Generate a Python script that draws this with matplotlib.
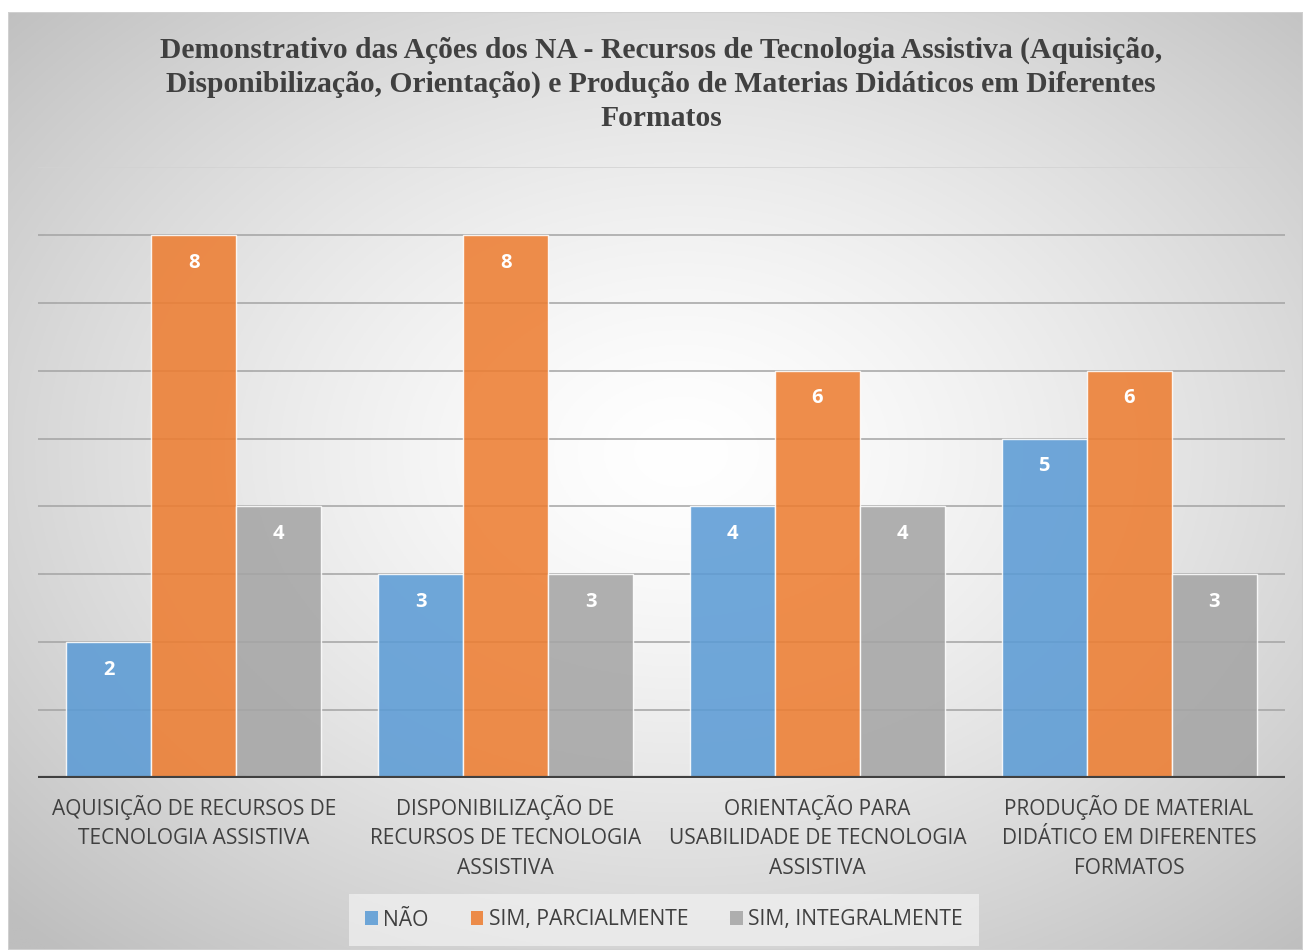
import numpy as np
import matplotlib
matplotlib.use("Agg")
import matplotlib.pyplot as plt
from matplotlib.patches import Patch

categories = [
    "AQUISIÇÃO DE RECURSOS DE\nTECNOLOGIA ASSISTIVA",
    "DISPONIBILIZAÇÃO DE\nRECURSOS DE TECNOLOGIA\nASSISTIVA",
    "ORIENTAÇÃO PARA\nUSABILIDADE DE TECNOLOGIA\nASSISTIVA",
    "PRODUÇÃO DE MATERIAL\nDIDÁTICO EM DIFERENTES\nFORMATOS",
]
series_names = ["NÃO", "SIM, PARCIALMENTE", "SIM, INTEGRALMENTE"]
nao = [2, 3, 4, 5]
parcial = [8, 8, 6, 6]
integral = [4, 3, 4, 3]
series_values = [nao, parcial, integral]
colors = ["#5B9BD5", "#ED7D31", "#A5A5A5"]
title = ("Demonstrativo das Ações dos NA - Recursos de Tecnologia Assistiva (Aquisição,\n"
         "Disponibilização, Orientação) e Produção de Materias Didáticos em Diferentes\n"
         "Formatos")

W, H = 1303, 950
fig = plt.figure(figsize=(W / 100, H / 100), dpi=100)
fig.patch.set_facecolor("white")

# background with radial gradient
bx0, by_top = 8, 12
bg = fig.add_axes([bx0 / W, 0, 1 - bx0 / W, 1 - by_top / H], zorder=-5)
ny, nx = 400, 550
yy, xx = np.mgrid[0:1:ny * 1j, 0:1:nx * 1j]
r = np.sqrt((xx - 0.52) ** 2 + (yy - 0.47) ** 2) / 0.72
val = 255 - (255 - 190) * np.clip(r, 0, 1) ** 1.4
img = np.dstack([val, val, val]) / 255.0
bg.imshow(img, extent=[0, 1, 0, 1], aspect="auto", origin="upper")
bg.set_axis_off()
bg.add_patch(plt.Rectangle((0, 0), 1, 1, transform=bg.transAxes, fill=False,
                           edgecolor="#d0d0d0", lw=1.5))

# main plot
ax = fig.add_axes([38 / W, 1 - 778 / H, (1285 - 38) / W, (778 - 167) / H])
ax.set_facecolor("none")
ax.set_xlim(-0.5, 3.5)
ax.set_ylim(0, 9)

for yv in range(1, 9):
    ax.axhline(yv, color="#a3a3a3", lw=1.1, zorder=0)
ax.axhline(9, color="#d2d2d2", lw=1.1, zorder=0)

x = np.arange(len(categories))
bw = 0.2727
for i, (name, vals, c) in enumerate(zip(series_names, series_values, colors)):
    pos = x + (i - 1) * bw
    ax.bar(pos, vals, width=bw, color=c, alpha=0.87, edgecolor=(1, 1, 1, 0.6),
           linewidth=1.0, zorder=2, label=name)
    for px, v in zip(pos, vals):
        ax.annotate(str(v), (px, v), xytext=(0, -20), textcoords="offset points",
                    ha="center", va="center", color="white", fontsize=14.5,
                    fontweight="bold", family="Open Sans", zorder=3)

ax.axhline(0, color="#404040", lw=3, zorder=4)
for s in ax.spines.values():
    s.set_visible(False)
ax.set_yticks([])
ax.set_xticks(x)
ax.set_xticklabels(categories, fontsize=15, color="#404040", family="Open Sans",
                   linespacing=1.54)
ax.tick_params(axis="x", length=0, pad=12)

fig.text(661 / W, 1 - 37 / H, title, ha="center", va="top", fontsize=21.3,
         fontweight="bold", family="Liberation Serif", color="#404040",
         linespacing=1.31)

handles = [Patch(facecolor=c, alpha=0.87, edgecolor="none") for c in colors]
leg = fig.legend(handles, series_names, loc="center", bbox_to_anchor=(664 / W, 1 - 920 / H),
                 ncol=3, frameon=True, handlelength=0.6, handleheight=0.6,
                 handletextpad=0.25, columnspacing=2.0, borderpad=0.45,
                 prop={"family": "Open Sans", "size": 15.2})
leg.get_frame().set_facecolor("#f2f2f2")
leg.get_frame().set_alpha(0.7)
leg.get_frame().set_edgecolor("none")
leg.get_frame().set_boxstyle("square", pad=0.3)
for t in leg.get_texts():
    t.set_color("#404040")

fig.savefig("out.png", dpi=100)
